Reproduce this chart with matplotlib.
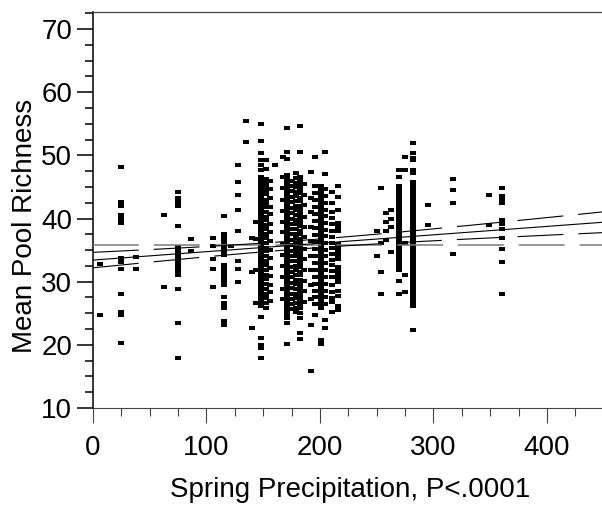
import numpy as np
import matplotlib
matplotlib.use('Agg')
import matplotlib.pyplot as plt
from matplotlib.ticker import MultipleLocator

plt.rcParams['font.family'] = ['Liberation Sans', 'DejaVu Sans']
plt.rcParams['lines.scale_dashes'] = False

rich_006 = [32.8, 24.8]
rich_025 = [48.1, 42.6, 42.0, 40.5, 40.1, 39.6, 39.3, 33.7, 33.1, 32.0, 28.0, 25.2, 24.7, 20.3]
rich_038 = [33.9, 32.0]
rich_063 = [40.5, 29.2]
rich_075 = [44.2, 43.3, 42.6, 42.0, 38.8, 35.5, 35.0, 34.5, 34.0, 33.5, 33.0, 32.5, 32.0,
            31.5, 31.0, 28.8, 23.5, 17.9]
rich_086 = [36.8, 34.9]
rich_106 = [36.9, 35.6, 33.6, 32.0, 29.2]
rich_115 = [40.4, 37.5, 37.0, 36.5, 36.0, 35.5, 35.0, 34.5, 34.2, 32.6, 32.0, 31.5, 31.0,
            30.5, 30.0, 29.5, 27.6, 26.6, 26.2, 25.8, 23.7, 23.1]
rich_122 = [35.6]
rich_128 = [48.5, 45.8, 43.7, 41.3, 38.1, 33.2, 32.0, 30.0]
rich_135 = [55.4, 52.1]
rich_140 = [36.9, 31.6, 22.7]
rich_144 = [39.5, 36.8, 31.8, 26.7]
rich_148 = [55.0, 52.2, 50.3, 49.2, 48.4, 47.7, 46.6, 46.0, 45.5, 44.9, 44.4, 43.8, 43.3,
            42.7, 42.2, 41.6, 41.1, 40.5, 40.0, 39.4, 38.9, 38.3, 37.8, 37.2, 36.7, 36.1,
            35.6, 35.0, 34.5, 33.9, 33.4, 32.8, 32.3, 31.7, 31.2, 30.6, 30.1, 29.5, 29.0,
            28.4, 27.9, 27.3, 26.8, 26.2, 24.4, 21.1, 20.0, 19.5, 17.9]
rich_152 = [49.2, 47.9, 46.3, 45.8, 45.2, 44.5, 43.9, 43.0, 42.4, 41.8, 41.0, 40.3, 39.7,
            39.0, 38.4, 37.5, 36.9, 36.2, 35.4, 34.8, 34.0, 33.3, 32.6, 31.8, 31.1, 30.4,
            29.6, 28.9, 28.1, 27.4, 26.6, 25.9]
rich_156 = [46.0, 44.6, 43.2, 41.9, 40.7, 39.2, 37.9, 36.4, 35.0, 33.7, 32.2, 30.9, 29.5,
            28.3, 26.9]
rich_160 = [48.4]
rich_167 = [49.8, 46.5, 44.8, 43.0, 41.2, 39.5, 37.8, 36.0, 34.2, 32.5, 30.7, 28.9, 27.2]
rich_171 = [54.3, 50.6, 49.5, 46.9, 46.3, 45.8, 45.2, 44.6, 44.1, 43.5, 42.9, 42.4, 41.8,
            41.2, 40.7, 40.1, 39.5, 39.0, 38.4, 37.8, 37.3, 36.7, 36.1, 35.6, 35.0, 34.4,
            33.9, 33.3, 32.7, 32.2, 31.6, 31.0, 30.5, 29.9, 29.3, 28.8, 28.2, 27.6, 27.1,
            26.5, 25.9, 25.4, 24.8, 24.2, 23.4, 20.2]
rich_175 = [46.0, 45.1, 44.3, 43.4, 42.6, 41.7, 40.9, 40.0, 39.2, 38.3, 37.5, 36.6, 35.8,
            34.9, 34.1, 33.2, 32.4, 31.5, 30.7, 29.8, 29.0, 28.1, 27.3, 26.4, 25.6]
rich_179 = [47.2, 46.4, 45.7, 45.0, 44.2, 43.5, 42.8, 42.0, 41.3, 40.6, 39.8, 39.1, 38.4,
            37.6, 36.9, 36.2, 35.4, 34.7, 34.0, 33.2, 32.5, 31.8, 31.0, 30.3, 29.6, 28.8,
            28.1, 27.4, 26.6, 25.9, 25.2]
rich_182 = [54.6, 50.6, 46.6, 45.9, 45.3, 44.6, 44.0, 43.3, 42.7, 42.0, 41.4, 40.7, 40.1,
            39.4, 38.8, 38.1, 37.5, 36.8, 36.2, 35.5, 34.9, 34.2, 33.6, 32.9, 32.3, 31.6,
            31.0, 30.3, 29.7, 29.0, 28.4, 27.7, 27.1, 26.4, 25.8, 25.1, 24.2, 21.9, 21.0]
rich_186 = [45.4, 43.8, 42.1, 40.3, 38.7, 37.0, 35.2, 33.6, 31.9, 30.1, 28.5, 26.8]
rich_192 = [47.4, 43.3, 41.0, 38.7, 36.4, 34.1, 31.8, 29.5, 27.2, 23.1, 15.9]
rich_196 = [49.8, 45.1, 44.0, 42.9, 41.8, 40.7, 39.6, 38.5, 37.4, 36.3, 35.2, 34.1, 33.0,
            31.9, 30.8, 29.7, 28.6, 27.5, 26.4, 24.7]
rich_201 = [45.1, 44.5, 43.9, 43.3, 42.7, 42.1, 41.5, 40.9, 40.3, 39.7, 39.1, 38.5, 37.9,
            37.3, 36.7, 36.1, 35.5, 34.9, 34.3, 33.7, 33.1, 32.5, 31.9, 31.3, 30.7, 30.1,
            29.5, 28.9, 28.3, 27.7, 27.1, 26.5, 25.9, 20.8, 20.2]
rich_204 = [50.6, 47.0, 44.6, 43.6, 42.5, 41.4, 40.4, 39.3, 38.2, 37.2, 36.1, 35.0, 34.0,
            32.9, 31.8, 30.8, 29.7, 28.6, 27.6, 26.5, 23.9, 22.6]
rich_211 = [44.2, 42.4, 41.0, 40.1, 39.2, 38.0, 37.1, 36.2, 35.3, 34.4, 33.5, 32.6, 31.7,
            30.8, 29.4, 28.4, 27.4, 26.8, 25.2]
rich_216 = [45.1, 43.4, 41.4, 39.3, 38.7, 38.1, 36.0, 35.4, 34.8, 34.2, 33.6, 32.3, 31.7,
            31.1, 30.5, 29.9, 28.6, 27.8, 26.2, 25.5]
rich_250 = [38.1, 34.0]
rich_254 = [44.9, 36.1, 31.6, 28.0]
rich_258 = [40.9, 39.4, 38.0, 36.6]
rich_263 = [41.3, 39.9, 38.6, 34.7]
rich_270 = [47.7, 46.6, 45.1, 44.5, 44.0, 43.4, 42.9, 42.3, 41.7, 41.2, 40.6, 40.1, 39.5,
            39.0, 38.4, 37.8, 37.3, 36.7, 36.2, 35.6, 35.0, 34.5, 33.9, 33.4, 32.8, 32.3,
            31.8, 30.1, 28.0]
rich_275 = [49.8, 47.7, 36.1, 31.0, 28.4]
rich_282 = [51.9, 50.3, 49.6, 49.2, 47.7, 47.2, 45.8, 45.3, 44.9, 44.4, 43.9, 43.5, 43.0,
            42.5, 42.1, 41.6, 41.1, 40.7, 40.2, 39.7, 39.3, 38.8, 38.3, 37.9, 37.4, 36.9,
            36.5, 36.0, 35.5, 35.1, 34.6, 34.1, 33.7, 33.2, 32.7, 32.3, 31.8, 31.3, 30.9,
            30.4, 29.9, 29.5, 29.0, 28.5, 28.1, 27.6, 27.1, 26.7, 26.2, 22.3]
rich_295 = [42.1, 38.9]
rich_317 = [46.2, 44.5, 42.5, 34.4]
rich_349 = [43.7, 38.9]
rich_360 = [44.9, 43.5, 43.0, 42.4, 39.7, 39.2, 38.4, 36.9, 35.2, 33.1, 28.0]

columns = [(6, rich_006), (25, rich_025), (38, rich_038), (63, rich_063), (75, rich_075),
           (86, rich_086), (106, rich_106), (115, rich_115), (122, rich_122),
           (128, rich_128), (135, rich_135), (140, rich_140), (144, rich_144),
           (148, rich_148), (152, rich_152), (156, rich_156), (160, rich_160),
           (167, rich_167), (171, rich_171), (175, rich_175), (179, rich_179),
           (182, rich_182), (186, rich_186), (192, rich_192), (196, rich_196),
           (201, rich_201), (204, rich_204), (211, rich_211), (216, rich_216),
           (250, rich_250), (254, rich_254), (258, rich_258), (263, rich_263),
           (270, rich_270), (275, rich_275), (282, rich_282), (295, rich_295),
           (317, rich_317), (349, rich_349), (360, rich_360)]

# fitted line, 95% band and overall mean
fit_intercept = 33.42
fit_slope = 0.01333
precip_mean = 182.0
richness_mean = 35.85
band_min = 0.67
band_curv = 3.15e-5

precip = np.concatenate([np.full(len(v), x, dtype=float) for x, v in columns])
richness = np.concatenate([np.asarray(v, dtype=float) for x, v in columns])

W, H = 602, 508
fig = plt.figure(figsize=(W / 100, H / 100), dpi=100)
ax = fig.add_axes([93 / W, 100 / H, 509 / W, 396 / H])

rect = [(-1, -0.6), (1, -0.6), (1, 0.6), (-1, 0.6), (-1, -0.6)]
ax.scatter(precip, richness, marker=rect, s=25, color='black', linewidths=0, zorder=2)

xs = np.linspace(0, 450, 300)
fit = fit_intercept + fit_slope * xs
hw = np.sqrt(band_min ** 2 + band_curv * (xs - precip_mean) ** 2)
dash = (0, (33, 10.8))
ax.plot(xs, np.full_like(xs, richness_mean), color='#7a7a7a', lw=1.1, linestyle=dash, zorder=3)
ax.plot(xs, fit, color='black', lw=0.8, zorder=4)
ax.plot(xs, fit + hw, color='black', lw=0.8, linestyle=dash, zorder=4)
ax.plot(xs, fit - hw, color='black', lw=0.8, linestyle=dash, zorder=4)

ax.set_xlim(0, 448.5)
ax.set_ylim(10, 72.7)
ax.xaxis.set_major_locator(MultipleLocator(100))
ax.xaxis.set_minor_locator(MultipleLocator(25))
ax.yaxis.set_major_locator(MultipleLocator(10))
ax.yaxis.set_minor_locator(MultipleLocator(2.5))

ax.spines['right'].set_visible(False)
ax.spines['left'].set_linewidth(1.1)
ax.spines['left'].set_color('black')
ax.spines['bottom'].set_linewidth(0.8)
ax.spines['bottom'].set_color('#444444')
ax.spines['top'].set_linewidth(0.9)
ax.spines['top'].set_color('#444444')

ax.tick_params(axis='y', which='major', direction='out', length=11.5, width=1.1,
               color='black', labelsize=20, pad=3.6)
ax.tick_params(axis='y', which='minor', direction='out', length=5.8, width=1.1, color='black')
ax.tick_params(axis='x', which='major', direction='out', length=10.8, width=0.8,
               color='#444444', labelsize=20, pad=8.6)
ax.tick_params(axis='x', which='minor', direction='out', length=5.8, width=0.8, color='#444444')

ax.set_xlabel('Spring Precipitation, P<.0001', fontsize=20)
ax.set_ylabel('Mean Pool Richness', fontsize=20)
ax.xaxis.set_label_coords((350 - 93) / 509, (408 - 477) / 396)
ax.yaxis.set_label_coords((38 - 93) / 509, (408 - 226) / 396)

fig.savefig('out.png', dpi=100)
